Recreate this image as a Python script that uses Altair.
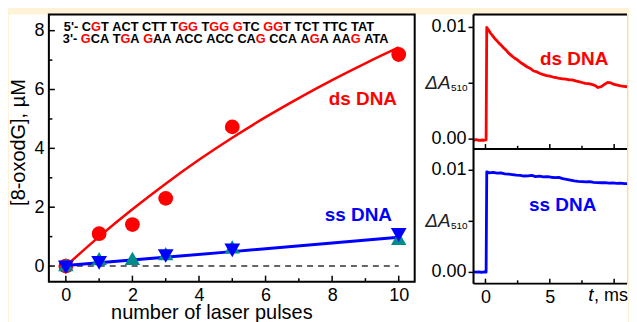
import altair as alt
import pandas as pd

# ---------------- data ----------------
pulses_ds = [0, 1, 2, 3, 5, 10]
oxo_ds = [0.0, 1.10, 1.41, 2.30, 4.73, 7.19]

pulses_ss_down = [0, 1, 3, 5, 10]
oxo_ss_down = [-0.04, 0.11, 0.34, 0.53, 1.06]

pulses_ss_up = [0, 1, 2, 3, 5, 10]
oxo_ss_up = [0.05, 0.25, 0.26, 0.42, 0.65, 0.94]

fit_ds_x = [0, 1, 2, 3, 4, 5, 6, 7, 8, 9, 10]
fit_ds_y = [0.0, 1.00, 1.93, 2.80, 3.61, 4.36, 5.06, 5.71, 6.32, 6.89, 7.43]

fit_ss_x = [0, 5, 10]
fit_ss_y = [0.02, 0.49, 0.98]

zero_x = [0, 10]
zero_y = [0, 0]

seq_top = "5'- CGT ACT CTT TGG TGG GTC GGT TCT TTC TAT"
seq_bottom = "3'- GCA TGA GAA ACC ACC CAG CCA AGA AAG ATA"

t_ds = [-0.93, -0.7, -0.5, -0.3, -0.1, 0.05, 0.1, 0.25, 0.4, 0.55, 0.7, 0.85, 1.0,
        1.2, 1.4, 1.6, 1.8, 2.0, 2.25, 2.5, 2.75, 3.0, 3.25, 3.5, 3.75, 4.0, 4.25,
        4.5, 4.75, 5.0, 5.25, 5.5, 5.75, 6.0, 6.25, 6.5, 6.75, 7.0, 7.25, 7.5, 7.75,
        8.0, 8.25, 8.5, 8.75, 9.0, 9.25, 9.5, 9.75, 10.0, 10.25, 10.5, 10.75, 11.0]
dA_ds = [-0.00010, -0.00005, -0.00012, -0.00008, -0.00010, -0.00006, 0.01000, 0.00975,
         0.00948, 0.00926, 0.00904, 0.00886, 0.00866, 0.00844, 0.00818, 0.00797,
         0.00770, 0.00750, 0.00726, 0.00708, 0.00684, 0.00666, 0.00646, 0.00632,
         0.00610, 0.00602, 0.00588, 0.00577, 0.00568, 0.00564, 0.00556, 0.00550,
         0.00543, 0.00540, 0.00537, 0.00531, 0.00530, 0.00521, 0.00514, 0.00507,
         0.00500, 0.00497, 0.00490, 0.00482, 0.00462, 0.00470, 0.00490, 0.00508,
         0.00503, 0.00490, 0.00484, 0.00477, 0.00473, 0.00469]

t_ss = [-0.93, -0.7, -0.5, -0.3, -0.1, 0.05, 0.1, 0.3, 0.6, 0.9, 1.2, 1.5, 1.8, 2.1,
        2.4, 2.7, 3.0, 3.3, 3.6, 3.9, 4.2, 4.5, 4.8, 5.1, 5.4, 5.7, 6.0, 6.3, 6.6,
        6.9, 7.2, 7.5, 7.8, 8.1, 8.4, 8.7, 9.0, 9.3, 9.6, 9.9, 10.2, 10.5, 10.8,
        11.0]
dA_ss = [0.00005, 0.00002, 0.00006, 0.00000, 0.00004, 0.00002, 0.00985, 0.00975,
         0.00980, 0.00972, 0.00974, 0.00966, 0.00962, 0.00958, 0.00952, 0.00950,
         0.00944, 0.00946, 0.00950, 0.00938, 0.00942, 0.00936, 0.00938, 0.00932,
         0.00928, 0.00930, 0.00918, 0.00912, 0.00904, 0.00896, 0.00892, 0.00890,
         0.00886, 0.00888, 0.00882, 0.00880, 0.00878, 0.00880, 0.00874, 0.00876,
         0.00872, 0.00874, 0.00869, 0.00870]

left_x_labels = [0, 2, 4, 6, 8, 10]
left_x_minor = [1, 3, 5, 7, 9]
left_y_labels = [0, 2, 4, 6, 8]
left_y_minor = [1, 3, 5, 7]
right_x_labels = [0, 5]
right_x_major = [0, 5, 10]
right_x_minor = [2.5, 7.5]
right_y_ticks = [0, 0.005, 0.01]
right_y_labels = ["0.00", "", "0.01"]

# ---------------- style / layout ----------------
FONT = "Liberation Sans"
RED = "#FF0000"
BLUE = "#0000FF"
TEAL = "#008C8C"
CREAM = "#FEF3D7"

WL, HL = 367, 268
XL = [-0.51, 10.48]
YL = [-0.53, 8.55]

GAP = 59
WR, HR = 154, 135
XR = [-0.93, 11.0]
YR_TOP = [-0.00089, 0.01116]
YR_BOT = [-0.0011, 0.01208]
TOTAL_W = 621          # whole svg width (fits the page without scaling)
LEFT_PAD = 40          # room left of the left plot

one = pd.DataFrame({"k": [0]})

# Arial/Liberation Sans Bold advance widths (1/1000 em)
CW = {"5": 556, "3": 556, "'": 238, "-": 333, " ": 278,
      "A": 722, "C": 722, "G": 778, "T": 611}
SEQ_FS = 12.8


def seq_rows(seq, x0_px):
    rows, pos, cur = [], 0.0, None
    for ch in seq:
        col = RED if ch == "G" else "black"
        if ch == " ":
            cur = None
        elif cur is not None and cur["col"] == col:
            cur["txt"] += ch
        else:
            px = x0_px + pos * SEQ_FS / 1000.0
            cur = {"txt": ch, "col": col,
                   "xd": XL[0] + px * (XL[1] - XL[0]) / WL}
            rows.append(cur)
        pos += CW[ch]
    return pd.DataFrame(rows)


def label(text, x, y, color, size=19, weight="bold", style="normal",
          align="center", baseline="middle"):
    return alt.Chart(one).mark_text(
        text=text, font=FONT, fontSize=size, fontWeight=weight,
        fontStyle=style, color=color, align=align, baseline=baseline).encode(
        x=alt.value(x), y=alt.value(y))


def frame(x0, y0, x1, y1):
    return alt.Chart(one).mark_rect(
        fillOpacity=0, stroke="black", strokeWidth=2).encode(
        x=alt.value(x0), x2=alt.value(x1), y=alt.value(y0), y2=alt.value(y1))


def hline(x0, x1, y):
    return alt.Chart(one).mark_rule(color="black", strokeWidth=2).encode(
        x=alt.value(x0), x2=alt.value(x1), y=alt.value(y))


def vline(x, y0, y1):
    return alt.Chart(one).mark_rule(color="black", strokeWidth=2).encode(
        x=alt.value(x), y=alt.value(y0), y2=alt.value(y1))


# ---------------- left panel ----------------
xsL = alt.Scale(domain=XL, nice=False, zero=False)
ysL = alt.Scale(domain=YL, nice=False, zero=False)
xaxL = alt.Axis(
    values=left_x_labels, ticks=False, tickSize=0, domain=False, grid=False,
    labelFontSize=18, labelPadding=5, labelColor="black", labelFont=FONT,
    title="number of laser pulses", titleFont=FONT, titleFontSize=20,
    titleFontWeight="normal", titleColor="black", titleX=163, titleY=37,
    titleBaseline="alphabetic", titleAlign="center", zindex=1)
yaxL = alt.Axis(
    values=left_y_labels, ticks=False, tickSize=0, domain=False, grid=False,
    labelFontSize=18, labelPadding=5, labelColor="black", labelFont=FONT,
    title="[8-oxodG], µM", titleFont=FONT, titleFontSize=20,
    titleFontWeight="normal", titleColor="black", titleAngle=270,
    titleX=-24, titleY=128, titleBaseline="alphabetic",
    titleAlign="center", zindex=1)


def XLf(f):
    return alt.X(f, scale=xsL, axis=xaxL)


def YLf(f):
    return alt.Y(f, scale=ysL, axis=yaxL)


bg = alt.Chart(one).mark_rect(color="white").encode(
    x=alt.value(-LEFT_PAD), x2=alt.value(TOTAL_W - LEFT_PAD),
    y=alt.value(0), y2=alt.value(312))

zero_line = alt.Chart(pd.DataFrame({"x": zero_x, "y": zero_y})).mark_line(
    color="#333333", strokeWidth=1.5, strokeDash=[6, 5]).encode(
    x=XLf("x:Q"), y=YLf("y:Q"))

fit_ds = alt.Chart(pd.DataFrame({"x": fit_ds_x, "y": fit_ds_y})).mark_line(
    color=RED, strokeWidth=2.5, interpolate="monotone").encode(
    x=XLf("x:Q"), y=YLf("y:Q"))

pts_ds = alt.Chart(pd.DataFrame({"x": pulses_ds, "y": oxo_ds})).mark_point(
    shape="circle", filled=True, color=RED, size=220, opacity=1).encode(
    x=XLf("x:Q"), y=YLf("y:Q"))

fit_ss = alt.Chart(pd.DataFrame({"x": fit_ss_x, "y": fit_ss_y})).mark_line(
    color=BLUE, strokeWidth=3).encode(x=XLf("x:Q"), y=YLf("y:Q"))

pts_up = alt.Chart(pd.DataFrame({"x": pulses_ss_up, "y": oxo_ss_up})).mark_point(
    shape="triangle-up", filled=True, color=TEAL, size=240, opacity=1).encode(
    x=XLf("x:Q"), y=YLf("y:Q"))

pts_down = alt.Chart(pd.DataFrame({"x": pulses_ss_down, "y": oxo_ss_down})).mark_point(
    shape="triangle-down", filled=True, color=BLUE, size=250, opacity=1).encode(
    x=XLf("x:Q"), y=YLf("y:Q"))


def seq_layer(seq, x0, ypix):
    return alt.Chart(seq_rows(seq, x0)).mark_text(
        font=FONT, fontSize=SEQ_FS, fontWeight="bold", align="left",
        baseline="middle").encode(
        x=XLf("xd:Q"), y=alt.value(ypix),
        text="txt:N", color=alt.Color("col:N", scale=None))


def lt_x(vals, length):
    return alt.Chart(pd.DataFrame({"v": vals})).mark_rule(
        color="black", strokeWidth=1.5).encode(
        x=XLf("v:Q"), y=alt.value(HL), y2=alt.value(HL - length))


def lt_y(vals, length):
    return alt.Chart(pd.DataFrame({"v": vals})).mark_rule(
        color="black", strokeWidth=1.5).encode(
        y=YLf("v:Q"), x=alt.value(0), x2=alt.value(length))


left = alt.layer(
    bg, zero_line, fit_ds, pts_ds, fit_ss, pts_up, pts_down,
    seq_layer(seq_top, 15, 13), seq_layer(seq_bottom, 14, 25),
    label("ds DNA", 315, 85, RED), label("ss DNA", 310.5, 201, BLUE),
    lt_x(left_x_labels, 6), lt_x(left_x_minor, 3.5),
    lt_y(left_y_labels, 6), lt_y(left_y_minor, 3.5),
    frame(0, 0, WL, HL),
).properties(width=WL, height=HL)

# ---------------- right panels (one layered view, two stacked y ranges) ----------------
xsR = alt.Scale(domain=XR, nice=False, zero=False)
xaxR = alt.Axis(values=right_x_labels, grid=False, domain=False, ticks=False,
                tickSize=0, labelFontSize=18, labelPadding=5, labelColor="black",
                labelFont=FONT, title="", zindex=1)


def XRf(f):
    return alt.X(f, scale=xsR, axis=xaxR)


def panel_layers(t, v, color, ydom, y0, name, nx, ny):
    ys = alt.Scale(domain=ydom, nice=False, zero=False, range=[y0 + HR, y0])
    tick_df = pd.DataFrame({"v": right_y_ticks, "lab": right_y_labels})
    trace = alt.Chart(pd.DataFrame({"t": t, "v": v})).mark_line(
        color=color, strokeWidth=2.8, strokeJoin="round").encode(
        x=XRf("t:Q"), y=alt.Y("v:Q", scale=ys, axis=None))
    yt = alt.Chart(tick_df).mark_rule(color="black", strokeWidth=1.5).encode(
        y=alt.Y("v:Q", scale=ys, axis=None), x=alt.value(-5), x2=alt.value(0))
    yl = alt.Chart(tick_df).mark_text(
        font=FONT, fontSize=18, color="black", align="right",
        baseline="middle").encode(
        y=alt.Y("v:Q", scale=ys, axis=None), x=alt.value(-7), text="lab:N")
    dA = alt.Chart(one).mark_text(
        text="ΔA", font=FONT, fontSize=19, fontStyle="italic", color="#222222",
        align="right", baseline="middle").encode(
        x=alt.value(-23), y=alt.YDatum(0.005, scale=ys, axis=None))
    sub = alt.Chart(one).mark_text(
        text="510", font=FONT, fontSize=10, color="black", align="right",
        baseline="middle", dy=4.5).encode(
        x=alt.value(-6), y=alt.YDatum(0.005, scale=ys, axis=None))
    xmaj = alt.Chart(pd.DataFrame({"v": right_x_major})).mark_rule(
        color="black", strokeWidth=1.5).encode(
        x=XRf("v:Q"), y=alt.value(y0 + HR), y2=alt.value(y0 + HR - 5))
    xmin = alt.Chart(pd.DataFrame({"v": right_x_minor})).mark_rule(
        color="black", strokeWidth=1.5).encode(
        x=XRf("v:Q"), y=alt.value(y0 + HR), y2=alt.value(y0 + HR - 3.3))
    return [trace, yt, yl, dA, sub, xmaj, xmin, label(name, nx, y0 + ny, color)]


right = alt.layer(
    *panel_layers(t_ds, dA_ds, RED, YR_TOP, 0, "ds DNA", 101, 44.7),
    *panel_layers(t_ss, dA_ss, BLUE, YR_BOT, HR, "ss DNA", 89.5, 56),
    hline(0, WR, 0), hline(0, WR, HR), hline(0, WR, 2 * HR), vline(0, 0, 2 * HR),
    label("t", 115, 2 * HR + 17, "black", size=19, weight="normal",
          style="italic", align="left", baseline="alphabetic"),
    label(", ms", 121, 2 * HR + 17, "black", size=18, weight="normal",
          align="left", baseline="alphabetic"),
).resolve_scale(y="independent").properties(width=WR, height=2 * HR)

chart = alt.hconcat(left, right, spacing=GAP, bounds="flush").properties(
    background=CREAM,
    padding={"left": 0, "top": 4, "right": 0, "bottom": 0},
).configure_view(stroke="transparent").configure(font=FONT)

chart.save("out.html", embed_options={"renderer": "svg", "actions": False})
